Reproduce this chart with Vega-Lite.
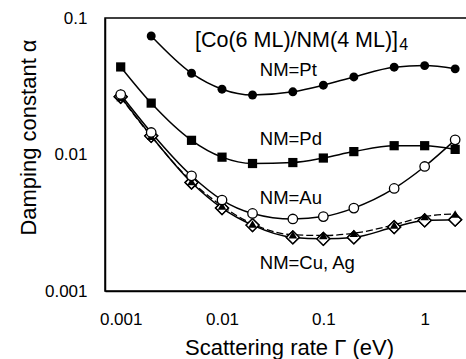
{
  "$schema": "https://vega.github.io/schema/vega-lite/v6.json",
  "width": 368,
  "height": 273,
  "autosize": "none",
  "padding": {"left": 105, "top": 18, "right": 0, "bottom": 68},
  "background": "white",
  "config": {
    "font": "Liberation Sans",
    "view": {"stroke": "black", "strokeWidth": 1.5},
    "axis": {
      "grid": false,
      "ticks": true,
      "tickOpacity": 0,
      "domainColor": "black",
      "domainWidth": 1.5,
      "labelColor": "black",
      "labelFontSize": 17,
      "titleColor": "black",
      "titleFontSize": 22,
      "titleFontWeight": "normal"
    }
  },
  "datasets": {
    "damping": [
      {"gamma": 0.002, "alpha": 0.0738, "nm": "Pt"},
      {"gamma": 0.005, "alpha": 0.0394, "nm": "Pt"},
      {"gamma": 0.01, "alpha": 0.0301, "nm": "Pt"},
      {"gamma": 0.02, "alpha": 0.0273, "nm": "Pt"},
      {"gamma": 0.05, "alpha": 0.0288, "nm": "Pt"},
      {"gamma": 0.1, "alpha": 0.0322, "nm": "Pt"},
      {"gamma": 0.2, "alpha": 0.037, "nm": "Pt"},
      {"gamma": 0.5, "alpha": 0.0436, "nm": "Pt"},
      {"gamma": 1, "alpha": 0.0448, "nm": "Pt"},
      {"gamma": 2, "alpha": 0.0424, "nm": "Pt"},
      {"gamma": 0.001, "alpha": 0.0438, "nm": "Pd"},
      {"gamma": 0.002, "alpha": 0.0238, "nm": "Pd"},
      {"gamma": 0.005, "alpha": 0.0127, "nm": "Pd"},
      {"gamma": 0.01, "alpha": 0.00956, "nm": "Pd"},
      {"gamma": 0.02, "alpha": 0.00859, "nm": "Pd"},
      {"gamma": 0.05, "alpha": 0.00873, "nm": "Pd"},
      {"gamma": 0.1, "alpha": 0.00942, "nm": "Pd"},
      {"gamma": 0.2, "alpha": 0.0105, "nm": "Pd"},
      {"gamma": 0.5, "alpha": 0.0116, "nm": "Pd"},
      {"gamma": 1, "alpha": 0.0116, "nm": "Pd"},
      {"gamma": 2, "alpha": 0.0109, "nm": "Pd"},
      {"gamma": 0.001, "alpha": 0.0275, "nm": "Au"},
      {"gamma": 0.002, "alpha": 0.0145, "nm": "Au"},
      {"gamma": 0.005, "alpha": 0.00698, "nm": "Au"},
      {"gamma": 0.01, "alpha": 0.00464, "nm": "Au"},
      {"gamma": 0.02, "alpha": 0.0037, "nm": "Au"},
      {"gamma": 0.05, "alpha": 0.00337, "nm": "Au"},
      {"gamma": 0.1, "alpha": 0.00351, "nm": "Au"},
      {"gamma": 0.2, "alpha": 0.00405, "nm": "Au"},
      {"gamma": 0.5, "alpha": 0.00564, "nm": "Au"},
      {"gamma": 1, "alpha": 0.00817, "nm": "Au"},
      {"gamma": 2, "alpha": 0.0128, "nm": "Au"},
      {"gamma": 0.001, "alpha": 0.0265, "nm": "Ag"},
      {"gamma": 0.002, "alpha": 0.0137, "nm": "Ag"},
      {"gamma": 0.005, "alpha": 0.00624, "nm": "Ag"},
      {"gamma": 0.01, "alpha": 0.00405, "nm": "Ag"},
      {"gamma": 0.02, "alpha": 0.00304, "nm": "Ag"},
      {"gamma": 0.05, "alpha": 0.00247, "nm": "Ag"},
      {"gamma": 0.1, "alpha": 0.00241, "nm": "Ag"},
      {"gamma": 0.2, "alpha": 0.00247, "nm": "Ag"},
      {"gamma": 0.5, "alpha": 0.00294, "nm": "Ag"},
      {"gamma": 1, "alpha": 0.00329, "nm": "Ag"},
      {"gamma": 2, "alpha": 0.00333, "nm": "Ag"},
      {"gamma": 0.001, "alpha": 0.0262, "nm": "Cu"},
      {"gamma": 0.002, "alpha": 0.0136, "nm": "Cu"},
      {"gamma": 0.005, "alpha": 0.00635, "nm": "Cu"},
      {"gamma": 0.01, "alpha": 0.0042, "nm": "Cu"},
      {"gamma": 0.02, "alpha": 0.0031, "nm": "Cu"},
      {"gamma": 0.05, "alpha": 0.00258, "nm": "Cu"},
      {"gamma": 0.1, "alpha": 0.00255, "nm": "Cu"},
      {"gamma": 0.2, "alpha": 0.00265, "nm": "Cu"},
      {"gamma": 0.5, "alpha": 0.00305, "nm": "Cu"},
      {"gamma": 1, "alpha": 0.00351, "nm": "Cu"},
      {"gamma": 2, "alpha": 0.00367, "nm": "Cu"}
    ],
    "notes": [
      {"gamma": 0.0236, "alpha": 0.0377, "text": "NM=Pt"},
      {"gamma": 0.0236, "alpha": 0.01164, "text": "NM=Pd"},
      {"gamma": 0.0236, "alpha": 0.004355, "text": "NM=Au"},
      {"gamma": 0.0236, "alpha": 0.001459, "text": "NM=Cu, Ag"}
    ],
    "heading": [
      {"gamma": 0.00541, "alpha": 0.0616, "text": "[Co(6 ML)/NM(4 ML)]"}
    ],
    "subscript": [
      {"gamma": 0.56, "alpha": 0.0583, "text": "4"}
    ],
    "xMajor": [{"gamma": 0.001}, {"gamma": 0.01}, {"gamma": 0.1}, {"gamma": 1}],
    "xMinor": [
      {"gamma": 0.0007}, {"gamma": 0.0008}, {"gamma": 0.0009},
      {"gamma": 0.002}, {"gamma": 0.003}, {"gamma": 0.004}, {"gamma": 0.005}, {"gamma": 0.006}, {"gamma": 0.007}, {"gamma": 0.008}, {"gamma": 0.009},
      {"gamma": 0.02}, {"gamma": 0.03}, {"gamma": 0.04}, {"gamma": 0.05}, {"gamma": 0.06}, {"gamma": 0.07}, {"gamma": 0.08}, {"gamma": 0.09},
      {"gamma": 0.2}, {"gamma": 0.3}, {"gamma": 0.4}, {"gamma": 0.5}, {"gamma": 0.6}, {"gamma": 0.7}, {"gamma": 0.8}, {"gamma": 0.9},
      {"gamma": 2}, {"gamma": 3}
    ],
    "yMajor": [{"alpha": 0.001}, {"alpha": 0.01}, {"alpha": 0.1}],
    "yMinor": [
      {"alpha": 0.002}, {"alpha": 0.003}, {"alpha": 0.004}, {"alpha": 0.005}, {"alpha": 0.006}, {"alpha": 0.007}, {"alpha": 0.008}, {"alpha": 0.009},
      {"alpha": 0.02}, {"alpha": 0.03}, {"alpha": 0.04}, {"alpha": 0.05}, {"alpha": 0.06}, {"alpha": 0.07}, {"alpha": 0.08}, {"alpha": 0.09}
    ]
  },
  "encoding": {
    "x": {
      "field": "gamma",
      "type": "quantitative",
      "scale": {"type": "log", "domain": [0.0007, 3], "nice": false},
      "axis": {
        "title": "Scattering rate Γ (eV)",
        "values": [0.001, 0.01, 0.1, 1],
        "format": "~g",
        "tickSize": 8,
        "labelPadding": 12,
        "titleBaseline": "alphabetic",
        "titleY": 63
      }
    },
    "y": {
      "field": "alpha",
      "type": "quantitative",
      "scale": {"type": "log", "domain": [0.001, 0.1], "nice": false},
      "axis": {
        "title": "Damping constant α",
        "values": [0.001, 0.01, 0.1],
        "format": "~g",
        "tickSize": 8,
        "labelPadding": 10,
        "titleAngle": 270,
        "titleAlign": "center",
        "titleBaseline": "alphabetic",
        "titleX": -70,
        "titleY": 119
      }
    }
  },
  "layer": [
    {
      "data": {"name": "xMajor"},
      "mark": {"type": "tick", "orient": "vertical", "size": 8, "thickness": 1.4, "color": "black", "opacity": 1, "yOffset": 4},
      "encoding": {"y": {"datum": 0.001, "type": "quantitative"}}
    },
    {
      "data": {"name": "xMinor"},
      "mark": {"type": "tick", "orient": "vertical", "size": 5, "thickness": 1.3, "color": "black", "opacity": 1, "yOffset": 2.5},
      "encoding": {"y": {"datum": 0.001, "type": "quantitative"}}
    },
    {
      "data": {"name": "yMajor"},
      "mark": {"type": "tick", "orient": "horizontal", "size": 8, "thickness": 1.4, "color": "black", "opacity": 1, "xOffset": -4},
      "encoding": {"x": {"datum": 0.0007, "type": "quantitative"}}
    },
    {
      "data": {"name": "yMinor"},
      "mark": {"type": "tick", "orient": "horizontal", "size": 5, "thickness": 1.3, "color": "black", "opacity": 1, "xOffset": -2.5},
      "encoding": {"x": {"datum": 0.0007, "type": "quantitative"}}
    },
    {
      "data": {"name": "damping"},
      "transform": [{"filter": "datum.nm !== 'Cu'"}],
      "mark": {"type": "line", "interpolate": "monotone", "color": "black", "strokeWidth": 1.5},
      "encoding": {"detail": {"field": "nm"}}
    },
    {
      "data": {"name": "damping"},
      "transform": [{"filter": "datum.nm === 'Cu'"}],
      "mark": {"type": "line", "interpolate": "monotone", "color": "black", "strokeWidth": 1.3, "strokeDash": [7, 3]}
    },
    {
      "data": {"name": "damping"},
      "transform": [{"filter": "datum.nm === 'Pt'"}],
      "mark": {"type": "point", "shape": "circle", "filled": true, "color": "black", "opacity": 1, "size": 80}
    },
    {
      "data": {"name": "damping"},
      "transform": [{"filter": "datum.nm === 'Pd'"}],
      "mark": {"type": "point", "shape": "square", "filled": true, "color": "black", "opacity": 1, "size": 85}
    },
    {
      "data": {"name": "damping"},
      "transform": [{"filter": "datum.nm === 'Ag'"}],
      "mark": {"type": "point", "shape": "diamond", "fill": "white", "stroke": "black", "strokeWidth": 1.3, "opacity": 1, "size": 170}
    },
    {
      "data": {"name": "damping"},
      "transform": [{"filter": "datum.nm === 'Cu'"}],
      "mark": {"type": "point", "shape": "triangle-up", "filled": true, "color": "black", "opacity": 1, "size": 75}
    },
    {
      "data": {"name": "damping"},
      "transform": [{"filter": "datum.nm === 'Ag'"}],
      "mark": {"type": "point", "shape": "diamond", "fill": null, "stroke": "black", "strokeWidth": 1.3, "opacity": 1, "size": 170}
    },
    {
      "data": {"name": "damping"},
      "transform": [{"filter": "datum.nm === 'Au'"}],
      "mark": {"type": "point", "shape": "circle", "fill": "white", "stroke": "black", "strokeWidth": 1.3, "opacity": 1, "size": 90}
    },
    {
      "data": {"name": "notes"},
      "mark": {"type": "text", "align": "left", "baseline": "alphabetic", "fontSize": 18.5, "color": "black"},
      "encoding": {"text": {"field": "text"}}
    },
    {
      "data": {"name": "heading"},
      "mark": {"type": "text", "align": "left", "baseline": "alphabetic", "fontSize": 21.5, "color": "black"},
      "encoding": {"text": {"field": "text"}}
    },
    {
      "data": {"name": "subscript"},
      "mark": {"type": "text", "align": "left", "baseline": "alphabetic", "fontSize": 16, "color": "black"},
      "encoding": {"text": {"field": "text"}}
    }
  ]
}
